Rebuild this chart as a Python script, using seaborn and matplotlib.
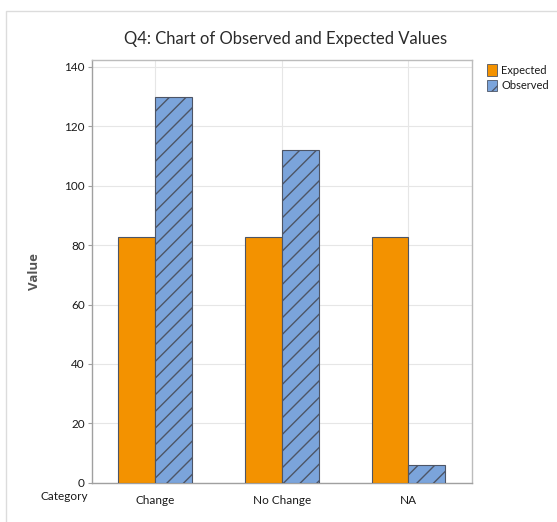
import matplotlib
matplotlib.use("Agg")
import matplotlib.pyplot as plt
from matplotlib.patches import Patch, Rectangle
import seaborn as sns
import pandas as pd

# Chi-square goodness-of-fit: observed vs expected counts
categories = ["Change", "No Change", "NA"]
observed = [130, 112, 6]
expected = [248 / 3, 248 / 3, 248 / 3]
series = ["Expected", "Observed"]
y_ticks = [0, 20, 40, 60, 80, 100, 120, 140]

df = pd.DataFrame({
    "Category": categories * 2,
    "Value": expected + observed,
    "Series": [series[0]] * len(categories) + [series[1]] * len(categories),
})

sns.set_theme(style="white")
plt.rcParams["font.family"] = ["Lato", "DejaVu Sans"]

orange = "#F39200"
blue = "#7BA4DB"
edge = "#4d5566"
text_dark = "#1a1a1a"

fig = plt.figure(figsize=(5.57, 5.22), dpi=100)
ax = fig.add_axes([0.165, 0.075, 0.682, 0.81])

sns.barplot(data=df, x="Category", y="Value", hue="Series", order=categories,
            hue_order=series, palette=[orange, blue], saturation=1,
            width=0.58, gap=0, edgecolor=edge, linewidth=0.8, legend=False,
            ax=ax, zorder=3)

plt.rcParams["hatch.color"] = "#2f3d57"
plt.rcParams["hatch.linewidth"] = 0.9
n = len(categories)
for i, bar in enumerate(ax.patches):
    if i >= n:
        bar.set_hatch("//")

ax.set_xlim(-0.5, 2.5)
ax.set_ylim(0, 142.3)
ax.set_yticks(y_ticks)
ax.set_xticks(range(n))
ax.set_xticklabels(categories)
ax.grid(True, color="#e6e6e6", linewidth=0.8, zorder=0)
ax.set_axisbelow(True)
for s in ax.spines.values():
    s.set_color("#bcbcbc")
    s.set_linewidth(1.0)
ax.spines["left"].set_color("#a0a0a0")
ax.spines["bottom"].set_color("#a0a0a0")
ax.tick_params(axis="y", left=True, length=3, width=0.8, color="#a0a0a0",
               labelsize=8.5, pad=2, labelcolor=text_dark)
ax.tick_params(axis="x", bottom=False, labelsize=8.5, pad=3, labelcolor=text_dark)
ax.set_xlabel("")
ax.set_ylabel("Value", fontsize=9.5, fontweight="bold", color="#555555",
              labelpad=17, family=["Open Sans", "DejaVu Sans"])

fig.text(0.072, 0.048, "Category", fontsize=8.5, color=text_dark,
         ha="left", va="center")

fig.suptitle("Q4: Chart of Observed and Expected Values", x=0.513, y=0.94,
             fontsize=12, color="#2a2a2a")

handles = [Patch(facecolor=orange, edgecolor=edge, linewidth=0.6, label=series[0]),
           Patch(facecolor=blue, edgecolor=edge, linewidth=0.6, hatch="//", label=series[1])]
fig.legend(handles=handles, loc="upper left", bbox_to_anchor=(0.866, 0.885),
           frameon=False, fontsize=8, handlelength=0.9, handleheight=1.25,
           handletextpad=0.4, labelspacing=0.3, borderaxespad=0,
           labelcolor=text_dark)

# Light frame around the chart panel
fig.patches.append(Rectangle((0.011, -0.1), 1.1, 1.079,
                             transform=fig.transFigure, fill=False,
                             edgecolor="#dcdcdc", linewidth=1.0))

fig.savefig("out.png", dpi=100, facecolor="white")
